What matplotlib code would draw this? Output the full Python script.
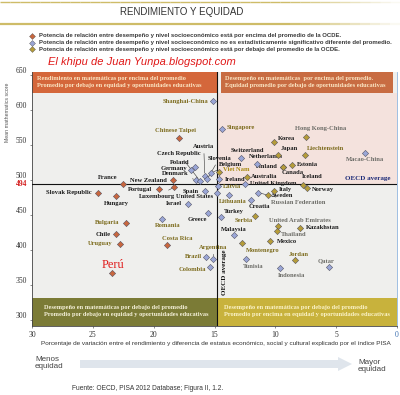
import matplotlib
matplotlib.use("Agg")

import matplotlib.pyplot as plt
from matplotlib.patches import Rectangle, FancyArrow
from matplotlib.lines import Line2D
from matplotlib.transforms import ScaledTranslation
import numpy as np


# -----------------------------
# DATA
# -----------------------------
countries = [
    "Shanghai-China", "Chinese Taipei", "Singapore", "Hong Kong-China", "Korea",
    "Japan", "Liechtenstein", "Macao-China", "Switzerland", "Netherlands",
    "Estonia", "Finland", "Canada", "Poland", "Belgium", "Germany", "Viet Nam",
    "Austria", "Australia", "Ireland", "Slovenia", "Denmark", "New Zealand",
    "Czech Republic", "France", "United Kingdom", "Iceland", "Latvia",
    "Luxembourg", "Norway", "Portugal", "Italy", "Spain", "Russian Federation",
    "Slovak Republic", "United States", "Lithuania", "Sweden", "Hungary",
    "Croatia", "Israel", "Greece", "Serbia", "Turkey", "Romania", "Bulgaria",
    "United Arab Emirates", "Kazakhstan", "Thailand", "Chile", "Malaysia",
    "Mexico", "Montenegro", "Uruguay", "Costa Rica", "Brazil", "Argentina",
    "Tunisia", "Jordan", "Colombia", "Qatar", "Indonesia", "Perú",
]
variance_pct = [
    15.1, 17.9, 14.4, 7.5, 10.1,
    9.8, 7.6, 2.6, 12.8, 11.5,
    8.6, 9.4, 9.4, 16.6, 15.3, 16.9, 14.6,
    15.8, 12.3, 14.6, 15.6, 16.5, 18.4,
    16.2, 22.5, 12.5, 7.7, 14.7,
    18.3, 7.4, 19.6, 10.1, 15.8, 11.4,
    24.6, 14.8, 13.8, 10.6, 23.1,
    12.0, 17.2, 15.5, 11.7, 14.5, 19.3, 22.3,
    9.8, 8.0, 9.9, 23.1, 13.4,
    10.4, 12.7, 22.8, 18.9, 15.7, 15.1,
    12.4, 8.4, 15.4, 5.6, 9.6, 23.4,
]
math_score = [
    613, 560, 573, 561, 554,
    536, 535, 538, 531, 523,
    521, 519, 518, 518, 510, 514, 511,
    506, 504, 501, 501, 500, 500,
    499, 495, 494, 493, 491,
    490, 489, 487, 485, 484, 482,
    482, 481, 479, 478, 477,
    471, 466, 453, 449, 448, 445, 439,
    434, 432, 427, 423, 421,
    413, 410, 409, 407, 391, 388,
    388, 386, 376, 376, 375, 368,
]
# a = above OECD average strength, n = not significantly different, b = below
strength = [
    "n", "a", "n", "b", "b",
    "b", "b", "n", "n", "n",
    "b", "b", "b", "n", "n", "n", "b",
    "n", "b", "n", "n", "n", "a",
    "n", "a", "n", "b", "n",
    "a", "b", "a", "b", "n", "n",
    "a", "n", "n", "b", "a",
    "n", "n", "n", "b", "n", "n", "a",
    "b", "b", "b", "a", "n",
    "b", "b", "a", "a", "n", "n",
    "n", "b", "n", "n", "n", "a",
]

OECD_SCORE = 494
OECD_PCT = 14.8
x_ticks = [30, 25, 20, 15, 10, 5, 0]
y_ticks = [300, 350, 400, 450, 500, 550, 600, 650]

# -----------------------------
# STYLE
# -----------------------------
MARKER_COLORS = {"a": "#c8673f", "n": "#9aa6d6", "b": "#b59c3a"}
LABEL_COLORS = {"d": "#1c1c1c", "o": "#7d6c1e", "g": "#6d6d68", "v": "#a88a10", "r": "#e01b1b"}
SERIF = "Liberation Serif"
SANS = "Liberation Sans"

# label offset in pixels (dx, dy), alignment, colour key, leader line
LABELS = {
    "Shanghai-China": (-5, -1, "right", "o", False),
    "Chinese Taipei": (-4, 7, "center", "o", False),
    "Singapore": (5, 1, "left", "o", False),
    "Hong Kong-China": (15, 9, "center", "g", False),
    "Korea": (4, 4, "left", "d", False),
    "Japan": (3, 6, "left", "d", False),
    "Liechtenstein": (2, 7, "left", "o", False),
    "Macao-China": (0, -6, "center", "g", False),
    "Switzerland": (6, 8, "center", "d", False),
    "Netherlands": (9, 7, "center", "d", False),
    "Estonia": (5, 1, "left", "d", False),
    "Finland": (-5, 0, "right", "d", False),
    "Canada": (10, -5, "center", "d", False),
    "Poland": (-5, 5, "right", "d", False),
    "Belgium": (20, 9, "center", "d", True),
    "Germany": (-4, 2, "right", "d", False),
    "Viet Nam": (4, 3, "left", "v", False),
    "Austria": (-1, 29, "center", "d", True),
    "Australia": (4, 1, "left", "d", False),
    "Ireland": (5, 0, "left", "d", False),
    "Slovenia": (12, 21, "center", "d", True),
    "Denmark": (-8, 7, "right", "d", True),
    "New Zealand": (-6, 0, "right", "d", False),
    "Czech Republic": (-21, 27, "center", "d", True),
    "France": (-6, 6, "right", "d", False),
    "United Kingdom": (5, 1, "left", "d", False),
    "Iceland": (9, 8, "center", "d", False),
    "Latvia": (5, 0, "left", "o", False),
    "Luxembourg": (-17, -9, "center", "d", True),
    "Norway": (5, -2, "left", "d", False),
    "Portugal": (-6, 0, "right", "d", False),
    "Italy": (5, 1, "left", "d", False),
    "Spain": (-6, 0, "right", "d", False),
    "Russian Federation": (13, -10, "left", "g", True),
    "Slovak Republic": (-6, 0, "right", "d", False),
    "United States": (-4, -3, "right", "d", False),
    "Lithuania": (4, -7, "center", "o", False),
    "Sweden": (4, 0, "left", "d", False),
    "Hungary": (0, -7, "center", "d", False),
    "Croatia": (8, -6, "center", "d", False),
    "Israel": (-6, 0, "right", "d", False),
    "Greece": (-1, -6, "right", "d", False),
    "Serbia": (-2, -5, "right", "o", False),
    "Turkey": (3, 5, "left", "d", False),
    "Romania": (6, -7, "center", "o", False),
    "Bulgaria": (-6, 0, "right", "o", False),
    "United Arab Emirates": (22, 6, "center", "g", False),
    "Kazakhstan": (6, 0, "left", "d", False),
    "Thailand": (4, -3, "left", "g", False),
    "Chile": (-5, 0, "right", "d", False),
    "Malaysia": (0, 6, "center", "d", False),
    "Mexico": (6, 0, "left", "d", False),
    "Montenegro": (20, -7, "center", "o", False),
    "Uruguay": (-7, 0, "right", "o", False),
    "Costa Rica": (10, 7, "center", "o", False),
    "Brazil": (-4, 0, "right", "o", False),
    "Argentina": (0, 11, "center", "o", True),
    "Tunisia": (7, -8, "center", "g", False),
    "Jordan": (4, 6, "center", "o", False),
    "Colombia": (-4, -2, "right", "o", False),
    "Qatar": (-3, 6, "center", "g", False),
    "Indonesia": (11, -8, "center", "g", False),
    "Perú": (1, 8, "center", "r", False),
}

fig = plt.figure(figsize=(4.0, 3.95), dpi=100, facecolor="white")
ax = fig.add_axes([32 / 400, 1 - 326 / 395, 365 / 400, 254 / 395])
ax.set_xlim(30, 0)
ax.set_ylim(292, 654)
ax.set_facecolor("#efefed")

# quadrant tint + coloured bands
ax.add_patch(Rectangle((OECD_PCT, OECD_SCORE), -OECD_PCT, 624 - OECD_SCORE,
                       facecolor="#f4e2dd", edgecolor="none", zorder=0))
ax.add_patch(Rectangle((30, 624), OECD_PCT - 30, 30, facecolor="#d4673b", edgecolor="none", zorder=1))
ax.add_patch(Rectangle((OECD_PCT - 0.3, 624), -(OECD_PCT - 0.6), 30, facecolor="#c86c42",
                       edgecolor="none", zorder=1))
ax.add_patch(Rectangle((30, 292), OECD_PCT - 30, 40, facecolor="#7b7b36", edgecolor="none", zorder=1))
ax.add_patch(Rectangle((OECD_PCT, 292), -OECD_PCT, 40, facecolor="#c8b23c", edgecolor="none", zorder=1))

band_kw = dict(fontsize=4.6, family=SERIF, fontweight="bold", va="center", ha="left",
               linespacing=1.4, zorder=2)
ax.text(29.6, 640, "Rendimiento en matemáticas por encima del promedio\n"
        "Promedio por debajo en equidad y oportunidades educativas", color="#fbe6c4", **band_kw)
ax.text(14.1, 640, "Desempeño en matemáticas  por encima del promedio.\n"
        "Equidad promedio por debajo de oportunidades educativas", color="#fbe6c4", **band_kw)
ax.text(29.0, 313, "Desempeño en matemáticas por debajo del promedio\n"
        "Promedio por debajo en equidad y oportunidades educativas", color="#f4f0d8", **band_kw)
ax.text(14.2, 313, "Desempeño en matemáticas por debajo del promedio\n"
        "Promedio por encima en equidad y oportunidades educativas", color="#fbf3c8", **band_kw)

# OECD average lines
ax.axhline(OECD_SCORE, color="#111111", lw=0.8, zorder=3)
ax.axvline(OECD_PCT, color="#111111", lw=0.8, zorder=3)
ax.text(14.2, 368, "OECD average", rotation=90, fontsize=5, family=SERIF, fontweight="bold",
        color="#111111", ha="center", va="center", zorder=4)
ax.text(2.4, 502, "OECD average", fontsize=5, family=SERIF, fontweight="bold",
        color="#1c2a78", ha="center", va="center", zorder=4)

# points
for c, xv, yv, s in zip(countries, variance_pct, math_score, strength):
    ax.plot(xv, yv, marker="D", ms=3.2, color=MARKER_COLORS[s], mec="#4a4a5a", mew=0.35,
            linestyle="none", zorder=6)
    dx, dy, ha, ck, leader = LABELS[c]
    big = c == "Perú"
    arrow = dict(arrowstyle="-", lw=0.4, color="#333333", shrinkA=1, shrinkB=2) if leader else None
    ax.annotate(c, (xv, yv), xytext=(dx, dy), textcoords="offset pixels", ha=ha, va="center",
                fontsize=9 if big else 4.7, family=SERIF, fontweight="bold" if not big else "normal",
                color=LABEL_COLORS[ck], arrowprops=arrow, zorder=5)

# axes
ax.set_xticks(x_ticks)
ax.set_xticklabels([str(t) for t in x_ticks])
ax.set_yticks(y_ticks)
ax.set_yticklabels([str(t) for t in y_ticks])
ax.tick_params(axis="both", labelsize=5.5, colors="#333333", length=1.5, width=0.4, pad=2)
for lab in ax.get_xticklabels() + ax.get_yticklabels():
    lab.set_family(SERIF)
for lab in ax.get_yticklabels():
    lab.set_transform(lab.get_transform() + ScaledTranslation(0, 0.05, fig.dpi_scale_trans))
ax.get_xticklabels()[-1].set_color("#3a6fb0")
ax.text(-0.012, OECD_SCORE, "494", transform=ax.get_yaxis_transform(), ha="right", va="center",
        fontsize=5.5, family=SERIF, fontweight="bold", color="#d42020")
ax.spines["top"].set_visible(False)
ax.spines["left"].set_color("#444444")
ax.spines["bottom"].set_color("#444444")
ax.spines["right"].set_color("#8fb4dd")
for sp in ax.spines.values():
    sp.set_linewidth(0.6)

ax.set_ylabel("Mean mathematics score", fontsize=3.8, family=SANS, color="#555555")
ax.yaxis.set_label_coords(-0.06, 0.84)
fig.text(216 / 400, 1 - 343 / 395,
         "Porcentaje de variación entre el rendimiento y diferencia de estatus económico, "
         "social y cultural explicado por el índice PISA",
         ha="center", va="center", fontsize=4.6, family=SANS, color="#333333")

# header
fig.text(182 / 400, 1 - 12 / 395, "RENDIMIENTO Y EQUIDAD", ha="center", va="center",
         fontsize=7, family=SANS, color="#333333")
for ypix, lw in [(2, 1.0), (24, 1.6)]:
    xs = np.linspace(0, 1, 41)
    for i in range(40):
        a = 0.9 if xs[i] < 0.7 else max(0.05, 0.9 - (xs[i] - 0.7) * 3)
        fig.add_artist(Line2D([xs[i], xs[i + 1]], [1 - ypix / 395] * 2, transform=fig.transFigure,
                              color="#c9b558", lw=lw, alpha=a, solid_capstyle="butt"))

legend_items = [
    ("a", "Potencia de relación entre desempeño y nivel socioeconómico está por encima del promedio de la OCDE."),
    ("n", "Potencia de relación entre desempeño y nivel socioeconómico no es estadísticamente significativo diferente del promedio."),
    ("b", "Potencia de relación entre desempeño y nivel socioeconómico está por debajo del promedio de la OCDE."),
]
for i, (k, txt) in enumerate(legend_items):
    yf = 1 - (36 + 6.5 * i) / 395
    fig.add_artist(Line2D([32 / 400], [yf], marker="D", ms=3.0, color=MARKER_COLORS[k],
                          mec="#555555", mew=0.3, transform=fig.transFigure))
    fig.text(39 / 400, yf, txt, ha="left", va="center", fontsize=4.3, family=SANS,
             fontweight="bold", color="#3a3a3a")

fig.text(48 / 400, 1 - 62 / 395, "El khipu de Juan Yunpa.blogspot.com", ha="left", va="center",
         fontsize=8, family=SANS, style="italic", color="#e01818")

# equity arrow
fig.add_artist(FancyArrow(80 / 400, 1 - 364 / 395, 258 / 400, 0, width=8 / 395,
                          head_width=14 / 395, head_length=14 / 400, length_includes_head=False,
                          transform=fig.transFigure, facecolor="#dfe5ec", edgecolor="none"))
fig.text(35 / 400, 1 - 363 / 395, "Menos\nequidad", ha="left", va="center", fontsize=5.8,
         family=SANS, color="#444444", linespacing=1.1)
fig.text(358 / 400, 1 - 366 / 395, "Mayor\nequidad", ha="left", va="center", fontsize=5.8,
         family=SANS, color="#444444", linespacing=1.1)
fig.text(72 / 400, 1 - 389 / 395, "Fuente: OECD, PISA 2012 Database; Figura II, 1.2.", ha="left",
         va="center", fontsize=4.8, family=SANS, color="#333333")

fig.savefig("out.png", dpi=100, facecolor="white")
